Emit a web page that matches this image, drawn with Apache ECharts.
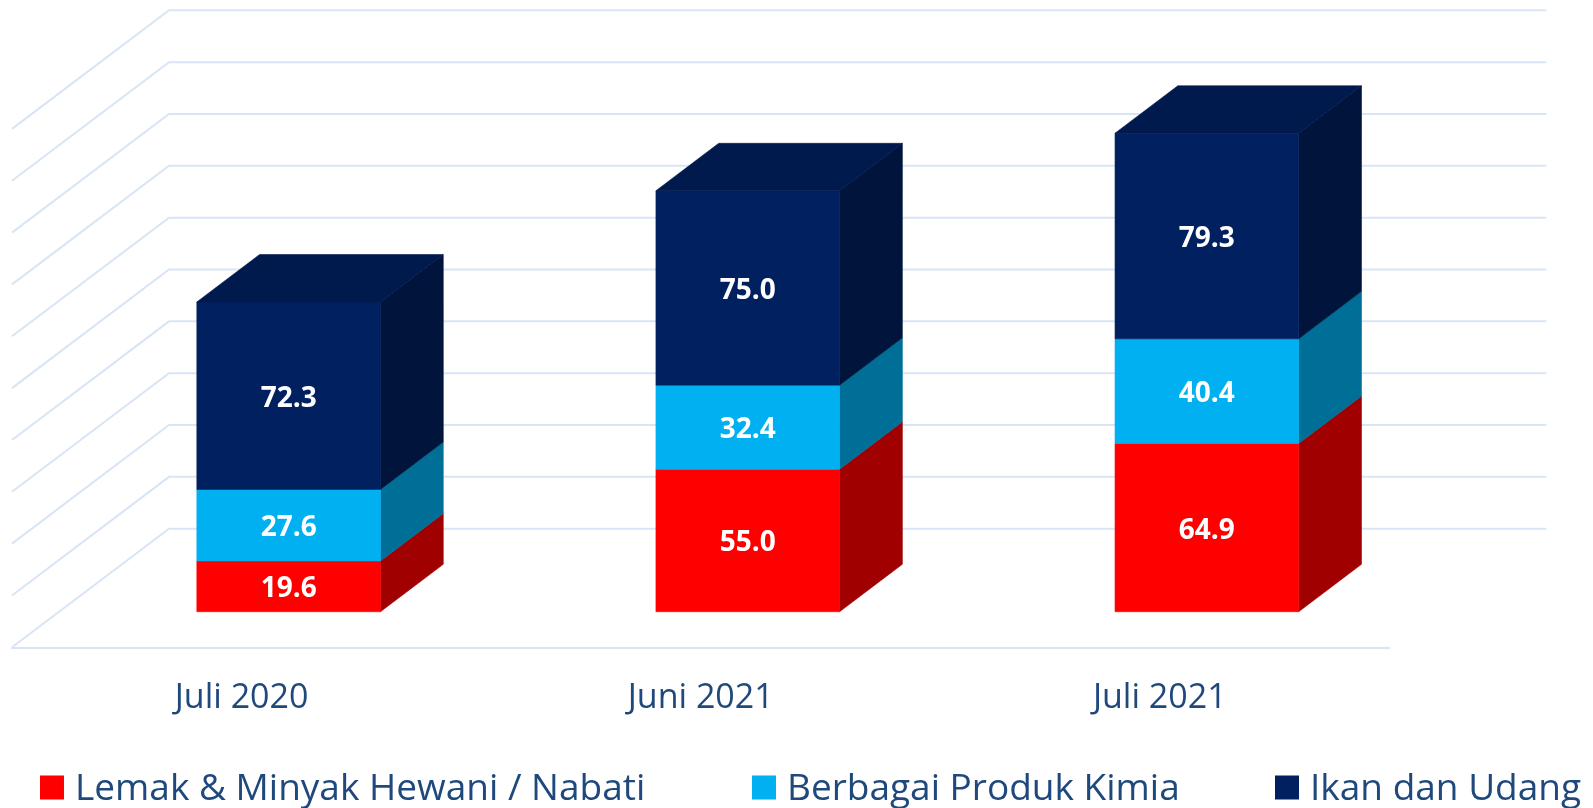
<!DOCTYPE html>
<html><head><meta charset="utf-8">
<style>html,body{margin:0;padding:0;background:#fff}#c{width:1593px;height:808px}</style>
<script src="https://cdn.jsdelivr.net/npm/echarts@6/dist/echarts.min.js"></script>
</head><body><div id="c"></div>
<script>
const categories = ['Juli 2020', 'Juni 2021', 'Juli 2021'];
const lemak = [19.6, 55.0, 64.9];
const kimia = [27.6, 32.4, 40.4];
const ikan = [72.3, 75.0, 79.3];
const ticks = [0, 20, 40, 60, 80, 100, 120, 140, 160, 180, 200];

const FONT = '"Open Sans", sans-serif';
const TEXT = '#1F497D';
const GRIDLINE = '#D9E5F6';
const DEPTH_X = 157, DEPTH_Y = -118.6;
const BAR_DEPTH_START = 0.3, BAR_DEPTH_SIZE = 0.4, BAR_WIDTH = 0.4;

function wall(params, api) {
  const cs = params.coordSys;
  const y = api.coord([0, api.value(0)])[1];
  const pts = [[cs.x, y], [cs.x + DEPTH_X, y + DEPTH_Y], [cs.x + cs.width + DEPTH_X, y + DEPTH_Y]];
  return { type: 'polyline', shape: { points: pts }, style: { fill: null, stroke: GRIDLINE, lineWidth: 2 } };
}

function face(points, color) {
  return { type: 'polygon', shape: { points }, style: { fill: color, stroke: color, lineWidth: 0.6 } };
}

function box(colors, isTop) {
  return function (params, api) {
    const cat = api.value(0), lo = api.value(1), hi = api.value(2);
    const band = api.size([1, 0])[0];
    const c0 = api.coord([cat, lo]), c1 = api.coord([cat, hi]);
    const ox = DEPTH_X * BAR_DEPTH_START, oy = DEPTH_Y * BAR_DEPTH_START;
    const dx = DEPTH_X * BAR_DEPTH_SIZE, dy = DEPTH_Y * BAR_DEPTH_SIZE;
    const w = band * BAR_WIDTH;
    const x0 = c0[0] + ox - w / 2, x1 = x0 + w;
    const yb = c0[1] + oy, yt = c1[1] + oy;
    const children = [
      face([[x1, yb], [x1 + dx, yb + dy], [x1 + dx, yt + dy], [x1, yt]], colors[1]),
      face([[x0, yb], [x1, yb], [x1, yt], [x0, yt]], colors[0])
    ];
    if (isTop) {
      children.push(face([[x0, yt], [x1, yt], [x1 + dx, yt + dy], [x0 + dx, yt + dy]], colors[2]));
    }
    children.push({
      type: 'text',
      style: {
        x: (x0 + x1) / 2, y: (yb + yt) / 2 + 3,
        text: (hi - lo).toFixed(1), fill: '#fff',
        font: '700 28px ' + FONT, align: 'center', verticalAlign: 'middle'
      }
    });
    return { type: 'group', children };
  };
}

function stackData(values, below) {
  return values.map((v, i) => {
    const base = below.reduce((s, arr) => s + arr[i], 0);
    return [i, base, base + v];
  });
}

function barSeries(name, values, below, colors, isTop) {
  return {
    type: 'custom', name, coordinateSystem: 'cartesian2d',
    data: stackData(values, below),
    encode: { x: 0, y: [1, 2] },
    itemStyle: { color: colors[0] },
    renderItem: box(colors, isTop),
    clip: false, silent: true, z: 3
  };
}

function legendAt(name, left) {
  return {
    data: [name], left, top: 766,
    icon: 'path://M0 0H24V24H0Z M0 28H0.01V28.01H0Z', itemWidth: 24, itemHeight: 28,
    selectedMode: false,
    textStyle: { fontFamily: FONT, fontSize: 37, color: TEXT, padding: [0, 0, 0, 6] }
  };
}

const chart = echarts.init(document.getElementById('c'));
chart.setOption({
  animation: false,
  backgroundColor: '#fff',
  grid: { left: 12, right: 203.7, top: 128.9, bottom: 160.7 },
  xAxis: {
    type: 'category', data: categories,
    axisTick: { show: false },
    axisLine: { show: true, lineStyle: { color: GRIDLINE, width: 2 } },
    axisLabel: { fontFamily: FONT, fontSize: 34, color: TEXT, margin: 34 }
  },
  yAxis: {
    type: 'value', min: 0, max: 200, interval: 20,
    axisLine: { show: false }, axisTick: { show: false },
    axisLabel: { show: false }, splitLine: { show: false }
  },
  legend: [
    legendAt('Lemak & Minyak Hewani / Nabati', 35),
    legendAt('Berbagai Produk Kimia', 747),
    legendAt('Ikan dan Udang', 1270)
  ],
  series: [
    { type: 'custom', name: 'wall', data: ticks.map(t => [t]), encode: { y: 0 }, renderItem: wall, clip: false, silent: true, z: 1 },
    barSeries('Lemak & Minyak Hewani / Nabati', lemak, [], ['#FF0000', '#A10000', '#CC0000'], false),
    barSeries('Berbagai Produk Kimia', kimia, [lemak], ['#00B0F0', '#006F97', '#008DC0'], false),
    barSeries('Ikan dan Udang', ikan, [lemak, kimia], ['#002060', '#00143C', '#001A4D'], true)
  ]
});
</script></body></html>
